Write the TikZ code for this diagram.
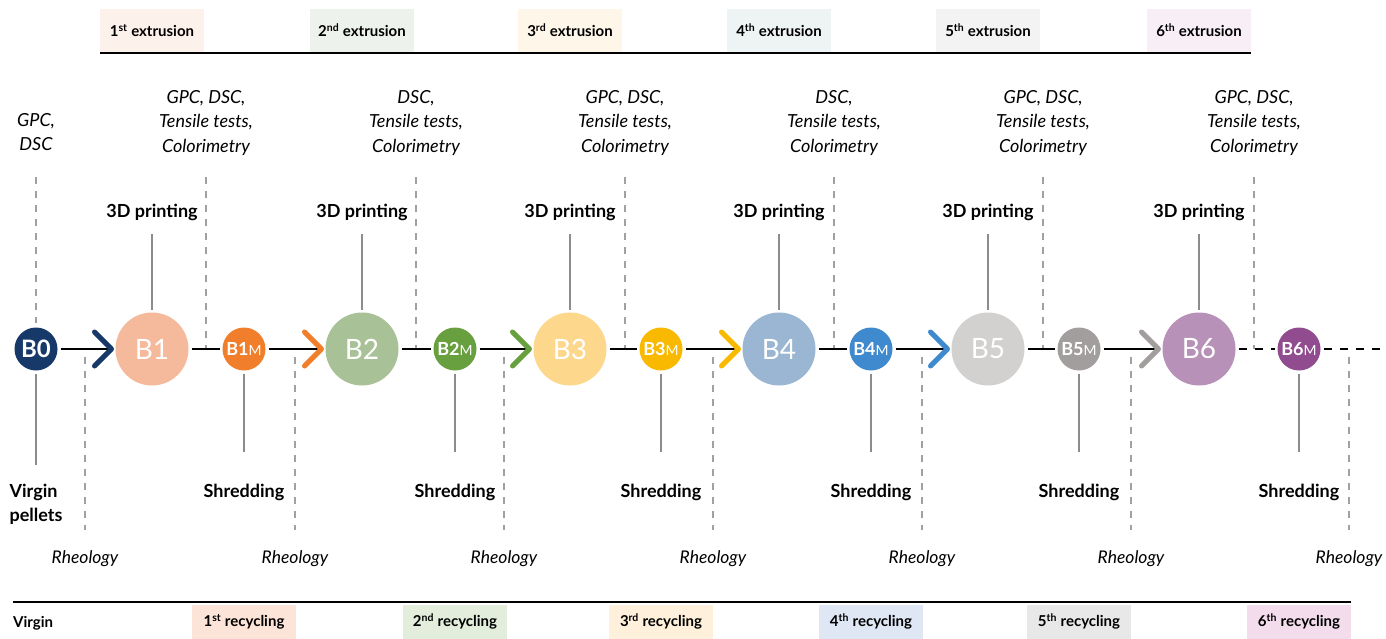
\documentclass[tikz,border=0pt]{standalone}
\usepackage{fontspec}
\setmainfont{Lato}
\usetikzlibrary{calc}

% circle colours: big = extruded batch, sm = shredded batch
\definecolor{sm0}{HTML}{17396A}
\definecolor{big1}{HTML}{F5B99B}\definecolor{sm1}{HTML}{F07E2B}
\definecolor{big2}{HTML}{A9C196}\definecolor{sm2}{HTML}{69A03F}
\definecolor{big3}{HTML}{FDD78C}\definecolor{sm3}{HTML}{F8B900}
\definecolor{big4}{HTML}{9AB6D3}\definecolor{sm4}{HTML}{3F8ACE}
\definecolor{big5}{HTML}{D3D0D0}\definecolor{sm5}{HTML}{A29E9E}
\definecolor{big6}{HTML}{B891B8}\definecolor{sm6}{HTML}{914C8F}
% band colours
\definecolor{ext1}{HTML}{FDF1EB}\definecolor{rec1}{HTML}{FCE4D8}
\definecolor{ext2}{HTML}{EEF2EC}\definecolor{rec2}{HTML}{E3EDDC}
\definecolor{ext3}{HTML}{FEF6E8}\definecolor{rec3}{HTML}{FEF0DA}
\definecolor{ext4}{HTML}{EEF4F4}\definecolor{rec4}{HTML}{DFE7F4}
\definecolor{ext5}{HTML}{F3F3F3}\definecolor{rec5}{HTML}{E8E8E8}
\definecolor{ext6}{HTML}{F8EEF6}\definecolor{rec6}{HTML}{F3DDEC}
\definecolor{stem}{HTML}{8C8C8C}
\definecolor{guideline}{HTML}{A0A0A0}

\begin{document}
\begin{tikzpicture}[x=1pt,y=-1pt,
  bigc/.style={circle,minimum size=73pt,inner sep=0pt,outer sep=3pt,text=white,
    font=\fontsize{28}{28}\selectfont},
  smallc/.style={circle,minimum size=43pt,inner sep=0pt,outer sep=3pt,text=white,
    font=\bfseries\fontsize{18}{18}\selectfont},
  flow/.style={line width=2.6pt,black},
  chev/.style={line width=5pt,line cap=round,line join=round},
  stemline/.style={line width=1.8pt,stem},
  guide/.style={line width=1.1pt,guideline,dash pattern=on 7pt off 7pt},
  steplabel/.style={font=\bfseries\fontsize{18}{24}\selectfont,anchor=base,inner sep=0pt},
  testlabel/.style={font=\itshape\fontsize{18}{24.5}\selectfont,align=center,anchor=north,inner sep=0pt},
  rheo/.style={font=\itshape\fontsize{17.5}{20}\selectfont,anchor=base,inner sep=0pt},
  band/.style={font=\bfseries\fontsize{15}{18}\selectfont,minimum width=104pt,inner sep=0pt}
]
\useasboundingbox (0,0) rectangle (1386,639);

% top and bottom rules
\draw[line width=2pt] (100,53) -- (1251,53);
\draw[line width=2pt] (13,602) -- (1351,602);

% virgin batch
\node[smallc,fill=sm0,font=\bfseries\fontsize{24}{24}\selectfont] (b0) at (36,349) {B0};
\node[testlabel] (t0) at (36,113) {GPC,\\DSC};
\node[steplabel,align=left,anchor=north] (v0) at (36,484) {Virgin\\pellets};
\draw[guide] (36,177) -- (36,323);
\draw[stemline] (b0.south) -- (36,465);
\draw[guide] (85,357) -- (85,530);
\node[rheo] (r0) at (85,563) {Rheology};
\node[font=\bfseries\fontsize{15}{18}\selectfont,anchor=west,inner sep=0pt] (vg) at (13,623) {Virgin};

% six extrusion / recycling cycles
\foreach \i/\bx/\sx/\dx/\rx/\sup/\tests in {
  1/152/244/206/295/st/{GPC, DSC,\\Tensile tests,\\Colorimetry},
  2/362/455/416/504/nd/{DSC,\\Tensile tests,\\Colorimetry},
  3/570/661/625/713/rd/{GPC, DSC,\\Tensile tests,\\Colorimetry},
  4/779/871/834/922/th/{DSC,\\Tensile tests,\\Colorimetry},
  5/988/1079/1043/1131/th/{GPC, DSC,\\Tensile tests,\\Colorimetry},
  6/1199/1299/1254/1349/th/{GPC, DSC,\\Tensile tests,\\Colorimetry}}{
  \pgfmathtruncatemacro\j{\i-1}
  \ifnum\j=0 \def\src{b0}\else\edef\src{b\j m}\fi
  % bands
  \node[band,fill=ext\i,minimum height=43pt] (e\i) at (\bx,30.5) {\i\textsuperscript{\sup} extrusion};
  \node[band,fill=rec\i,minimum height=36pt,text height=11pt,text depth=3pt] (c\i) at (\sx,622.5) {\i\textsuperscript{\sup} recycling};
  % measurement guides
  \node[testlabel] (t\i) at (\dx,90) {\tests};
  \draw[guide] (\dx,177) -- (\dx,349);
  \draw[guide] (\rx,357) -- (\rx,530);
  \node[rheo] (r\i) at (\rx,563) {Rheology};
  % batches
  \node[bigc,fill=big\i] (b\i) at (\bx,349) {B\i};
  \node[smallc,fill=sm\i] (b\i m) at (\sx,349) {B\i{\mdseries\fontsize{14}{14}\selectfont M}};
  % process steps
  \node[steplabel] (p\i) at (\bx,218) {3D printing};
  \node[steplabel] (s\i) at (\sx,497) {Shredding};
  \draw[stemline] ([yshift=-13pt]p\i.south) -- (b\i.north);
  \draw[stemline] (b\i m.south) -- ([yshift=31pt]s\i.north);
  % flow into the extruded batch
  \coordinate (a\i) at ($(b\i.west)+(-1,0)$);
  \draw[flow] (\src.east) -- (a\i);
  \draw[chev,sm\j] ($(a\i)+(-17,-17)$) -- (a\i) -- ($(a\i)+(-17,17)$);
}
% extruded batch to shredded batch
\foreach \i in {1,...,5}{\draw[flow] (b\i.east) -- (b\i m.west);}
\draw[flow,dash pattern=on 8pt off 8pt] (b6.east) -- (b6m.west);
\coordinate (tail) at (1386,349);
\draw[flow,dash pattern=on 8pt off 8pt] (b6m.east) -- (tail);
\end{tikzpicture}
\end{document}
